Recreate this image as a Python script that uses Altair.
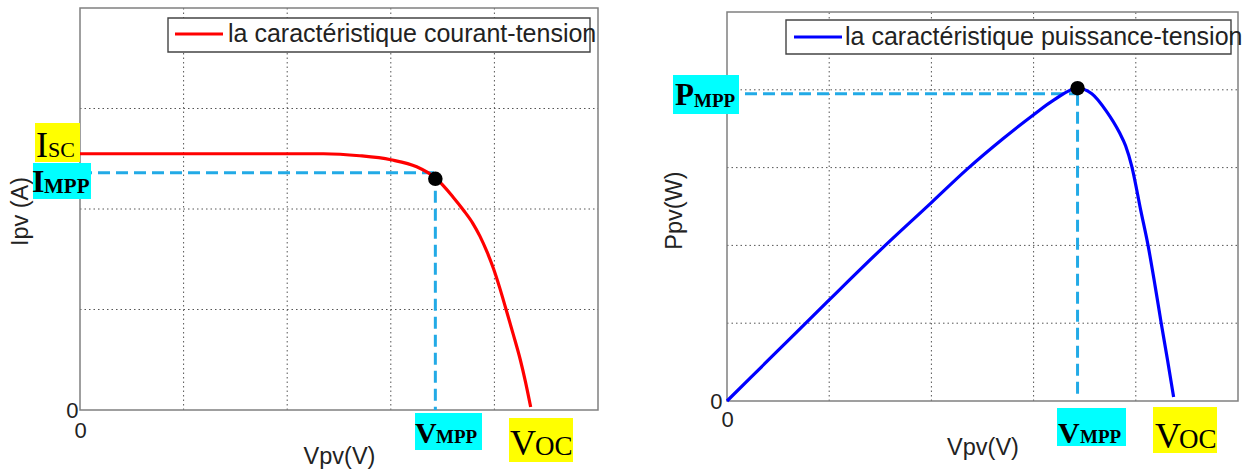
import altair as alt
import pandas as pd

# ---------------- data (grid units) ----------------
# Left panel: current-voltage characteristic
vpv_iv = [0.0, 1.0, 2.0, 2.35, 2.7, 3.0, 3.25, 3.43, 3.6, 3.7, 3.79, 3.86, 3.93, 3.99, 4.05, 4.11, 4.18, 4.25, 4.30, 4.35]
ipv_iv = [2.55, 2.55, 2.55, 2.55, 2.53, 2.49, 2.42, 2.31, 2.12, 1.99, 1.86, 1.73, 1.57, 1.41, 1.22, 1.01, 0.76, 0.50, 0.28, 0.03]
v_mpp_iv = 3.43
i_mpp = 2.36
i_dot = 2.30

# Right panel: power-voltage characteristic
vpv_pv = [0.0, 0.5, 1.0, 1.5, 2.0, 2.35, 2.7, 3.0, 3.2, 3.43, 3.57, 3.71, 3.84, 3.9, 3.96,
          4.05, 4.12, 4.19, 4.25, 4.31, 4.37]
ppv_pv = [0.0, 0.65, 1.30, 1.94, 2.55, 2.98, 3.37, 3.68, 3.87, 4.02, 3.95, 3.73, 3.45, 3.28, 3.02,
          2.44, 2.00, 1.47, 0.99, 0.53, 0.05]
v_mpp_pv = 3.43
p_mpp = 3.95
p_dot = 4.02
v_dash_end_pv = 0.05

x_grid = [1, 2, 3, 4]
y_grid_iv = [1, 2, 3]
y_grid_pv = [1, 2, 3, 4]
x_tick_labels = [0]
y_tick_labels = [0]

legend_iv = "la caractéristique courant-tension"
legend_pv = "la caractéristique puissance-tension"

# ---------------- styles ----------------
SANS = "Liberation Sans"
SERIF = "Liberation Serif"
TXT = "#222222"
GRID = "#555555"
FRAME = "#808080"
DASH = "#22AAE6"
YEL = "#FFFF00"
CYA = "#00FFFF"

one = pd.DataFrame({"k": [0]})


def box(x0, x1, y0, y1, color, **kw):
    return alt.Chart(one).mark_rect(color=color, **kw).encode(
        x=alt.value(x0), x2=alt.value(x1), y=alt.value(y0), y2=alt.value(y1))


def txt(s, x, y, size, font=SERIF, bold=False, color="black"):
    return alt.Chart(one).mark_text(
        text=s, font=font, fontSize=size, fontWeight="bold" if bold else "normal",
        align="left", baseline="alphabetic", color=color).encode(
        x=alt.value(x), y=alt.value(y))


def panel(vs, ys, line_color, width, height, ydom, ytop, ygrid, ytitle,
          ytitle_x, ytitle_y, ylabpad, xlabpad, vm, ym, ydot, vend,
          legend_text, leg, labels, extra=()):
    xs = alt.Scale(domain=[0, 5], nice=False, zero=False)
    yscale = alt.Scale(domain=[0, ydom], nice=False, zero=False)
    xaxis = alt.Axis(
        values=x_tick_labels, title="Vpv(V)", domain=False, ticks=False, tickSize=0, grid=False,
        labelFont=SANS, labelFontSize=22, labelColor=TXT, labelPadding=xlabpad, labelFlush=False,
        titleFont=SANS, titleFontSize=23.5, titleFontWeight="normal", titleColor=TXT,
        titleY=46, titleBaseline="middle")
    yaxis = alt.Axis(
        values=y_tick_labels, title=ytitle, domain=False, ticks=False, tickSize=0, grid=False,
        labelFont=SANS, labelFontSize=22, labelColor=TXT, labelPadding=ylabpad, labelFlush=False,
        titleFont=SANS, titleFontSize=23.5, titleFontWeight="normal", titleColor=TXT,
        titleX=ytitle_x, titleY=ytitle_y, titleAngle=270, titleAlign="center",
        titleBaseline="middle")

    def X(f):
        return alt.X(f, type="quantitative", scale=xs, axis=xaxis)

    def Y(f):
        return alt.Y(f, type="quantitative", scale=yscale, axis=yaxis)

    gx = pd.DataFrame({"g": x_grid, "y0": 0.0, "y1": ytop})
    gy = pd.DataFrame({"g": ygrid, "x0": 0.0, "x1": 5.0})
    grid_x = alt.Chart(gx).mark_rule(color=GRID, strokeWidth=1, strokeDash=[1.5, 3]).encode(
        x=X("g"), y=Y("y0"), y2="y1")
    grid_y = alt.Chart(gy).mark_rule(color=GRID, strokeWidth=1, strokeDash=[1.5, 3]).encode(
        y=Y("g"), x=X("x0"), x2="x1")

    frame = alt.Chart(pd.DataFrame({"x0": [0.0], "x1": [5.0], "y0": [0.0], "y1": [ytop]})).mark_rect(
        fill="white", fillOpacity=0, stroke=FRAME, strokeWidth=1.5).encode(
        x=X("x0"), x2="x1", y=Y("y0"), y2="y1")

    dashes = alt.Chart(pd.DataFrame({
        "x0": [0.0, vm], "x1": [vm, vm], "y0": [ym, ym], "y1": [ym, vend]})).mark_rule(
        color=DASH, strokeWidth=3, strokeDash=[12, 6]).encode(
        x=X("x0"), x2="x1", y=Y("y0"), y2="y1")

    df = pd.DataFrame({"v": vs, "y": ys})
    curve = alt.Chart(df).mark_line(color=line_color, strokeWidth=3.2, interpolate="monotone").encode(
        x=X("v"), y=Y("y"))

    dot = alt.Chart(pd.DataFrame({"v": [vm], "y": [ydot]})).mark_circle(
        color="black", opacity=1, size=210).encode(x=X("v"), y=Y("y"))

    lb = leg
    legend = [
        alt.Chart(one).mark_rect(fill="white", stroke="#444444", strokeWidth=1.4).encode(
            x=alt.value(lb["bx0"]), x2=alt.value(lb["bx1"]), y=alt.value(lb["by0"]), y2=alt.value(lb["by1"])),
        alt.Chart(one).mark_rule(color=line_color, strokeWidth=3.2).encode(
            x=alt.value(lb["lx0"]), x2=alt.value(lb["lx1"]), y=alt.value(lb["ly"])),
        txt(legend_text, lb["tx"], lb["ty"], 25, font=SANS, color=TXT),
    ]

    layers = list(extra) + [grid_x, grid_y, frame, dashes, curve, dot] + legend + labels
    return alt.layer(*layers).properties(width=width, height=height)


# invisible canvas anchor so that the page origin is known exactly
canvas = box(-80, 1167, -8, 462, "white", opacity=0)

# ---------------- left panel ----------------
labels_iv = [
    box(-45, 0, 115, 154, YEL),
    txt("I", -44, 149, 36),
    txt("SC", -32, 149, 22),
    box(-47, 11, 155, 191, CYA),
    txt("I", -48, 184, 32, bold=True),
    txt("MPP", -36, 185, 21, bold=True),
    box(335, 402, 405, 442, CYA),
    txt("V", 335, 435, 30, bold=True),
    txt("MPP", 356, 435, 19, bold=True),
    box(429, 493, 410, 454, YEL),
    txt("V", 430, 447, 36),
    txt("OC", 455, 447, 27),
]
left = panel(vpv_iv, ipv_iv, "#FF0000", 518, 402, 4, 4, y_grid_iv, "Ipv (A)",
             -60, 203, 2, 10, v_mpp_iv, i_mpp, i_dot, 0,
             legend_iv,
             dict(bx0=88, bx1=510, by0=10, by1=44, lx0=95, lx1=143, ly=26, tx=148, ty=34),
             labels_iv, extra=[canvas])

# ---------------- right panel ----------------
# view height 393 (top aligned with left panel); frame top at value 5 -> 4 px below the view top
ppu = 389 / 5.0
ydom_pv = 393 / ppu
labels_pv = [
    box(-54, 12, 67, 106, CYA),
    txt("P", -52, 97, 31, bold=True),
    txt("MPP", -33, 99, 19, bold=True),
    box(330, 399, 400, 438, CYA),
    txt("V", 331, 435, 30, bold=True),
    txt("MPP", 353, 435, 19, bold=True),
    box(426, 490, 399, 445, YEL),
    txt("V", 428, 440, 36),
    txt("OC", 452, 440, 27),
]
right = panel(vpv_pv, ppv_pv, "#0000FF", 511, 393, ydom_pv, 5, y_grid_pv, "Ppv(W)",
              -53, 202, 5, 8, v_mpp_pv, p_mpp, p_dot, v_dash_end_pv,
              legend_pv,
              dict(bx0=59, bx1=504, by0=12, by1=46, lx0=67, lx1=115, ly=29, tx=118, ty=37),
              labels_pv)

chart = alt.hconcat(left, right, spacing=129, bounds="flush").properties(
    padding=0,
    background="white",
).configure_view(strokeOpacity=0)

chart.save("out.html", embed_options={"renderer": "svg", "actions": False})
